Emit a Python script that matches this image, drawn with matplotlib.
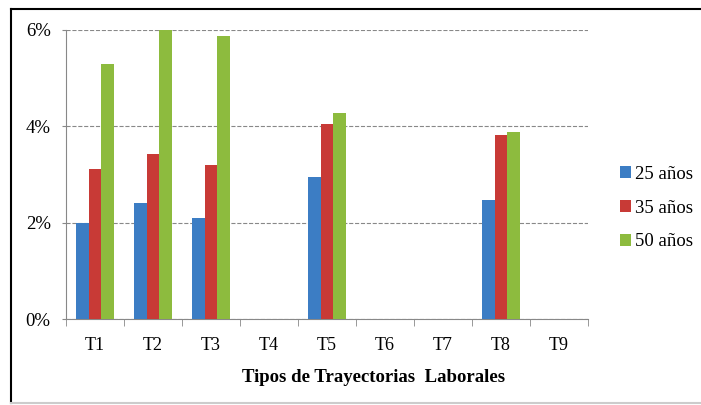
import numpy as np
import matplotlib.pyplot as plt
from matplotlib.lines import Line2D
from matplotlib.ticker import FuncFormatter

plt.rcParams['font.family'] = ['Liberation Serif', 'DejaVu Serif']

categorias = ['T1', 'T2', 'T3', 'T4', 'T5', 'T6', 'T7', 'T8', 'T9']
edad_25 = [2.00, 2.41, 2.10, 0, 2.95, 0, 0, 2.47, 0]
edad_35 = [3.11, 3.43, 3.20, 0, 4.05, 0, 0, 3.82, 0]
edad_50 = [5.29, 6.00, 5.88, 0, 4.28, 0, 0, 3.88, 0]
series = ['25 años', '35 años', '50 años']
colores = ['#3C7DC4', '#C83A36', '#8DBB3E']

fig = plt.figure(figsize=(7.01, 4.05), dpi=100)
ax = fig.add_axes([66 / 701, 1 - 319 / 405, (588 - 66) / 701, (319 - 30) / 405])

x = np.arange(len(categorias))
w = 0.22
for i, (vals, nombre, c) in enumerate(zip([edad_25, edad_35, edad_50], series, colores)):
    ax.bar(x + (i - 1) * w, vals, w, color=c, label=nombre, zorder=3)

ax.set_xlim(-0.5, len(categorias) - 0.5)
ax.set_ylim(0, 6)
ax.set_yticks([0, 2, 4, 6])
ax.yaxis.set_major_formatter(FuncFormatter(lambda v, p: '%d%%' % v))
ax.yaxis.grid(True, linestyle='--', color='#888888', linewidth=0.8, zorder=0)
ax.set_xticks(x)
ax.set_xticklabels(categorias)
ax.set_xticks(np.arange(-0.5, len(categorias)), minor=True)
ax.tick_params(axis='x', which='major', length=0, pad=13, labelsize=13)
ax.tick_params(axis='x', which='minor', length=5, color='#888888')
ax.tick_params(axis='y', length=3, color='#888888', labelsize=13.5, pad=8)

for s in ['top', 'right']:
    ax.spines[s].set_visible(False)
for s in ['left', 'bottom']:
    ax.spines[s].set_color('#888888')

ax.set_xlabel('Tipos de Trayectorias  Laborales', fontsize=13.5, fontweight='bold')
ax.xaxis.set_label_coords((374 - 66) / 522, -(377 - 319) / 289, transform=None)
ax.xaxis.label.set_verticalalignment('center')

ax.legend(loc='center left', bbox_to_anchor=(603 / 701, 1 - 208 / 405),
          bbox_transform=fig.transFigure, frameon=False, fontsize=13.5,
          handlelength=0.6, handleheight=0.6, handletextpad=0.2, labelspacing=0.9)

# marco de la figura
fig.add_artist(Line2D([11 / 701, 1], [1 - 9 / 405, 1 - 9 / 405], color='black', linewidth=1.5))
fig.add_artist(Line2D([11 / 701, 11 / 701], [1 - 9 / 405, 1 - 403 / 405], color='black', linewidth=1.5))
fig.add_artist(Line2D([11 / 701, 1], [1 - 403 / 405, 1 - 403 / 405], color='#cccccc', linewidth=1.5))

fig.savefig('out.png', dpi=100)
